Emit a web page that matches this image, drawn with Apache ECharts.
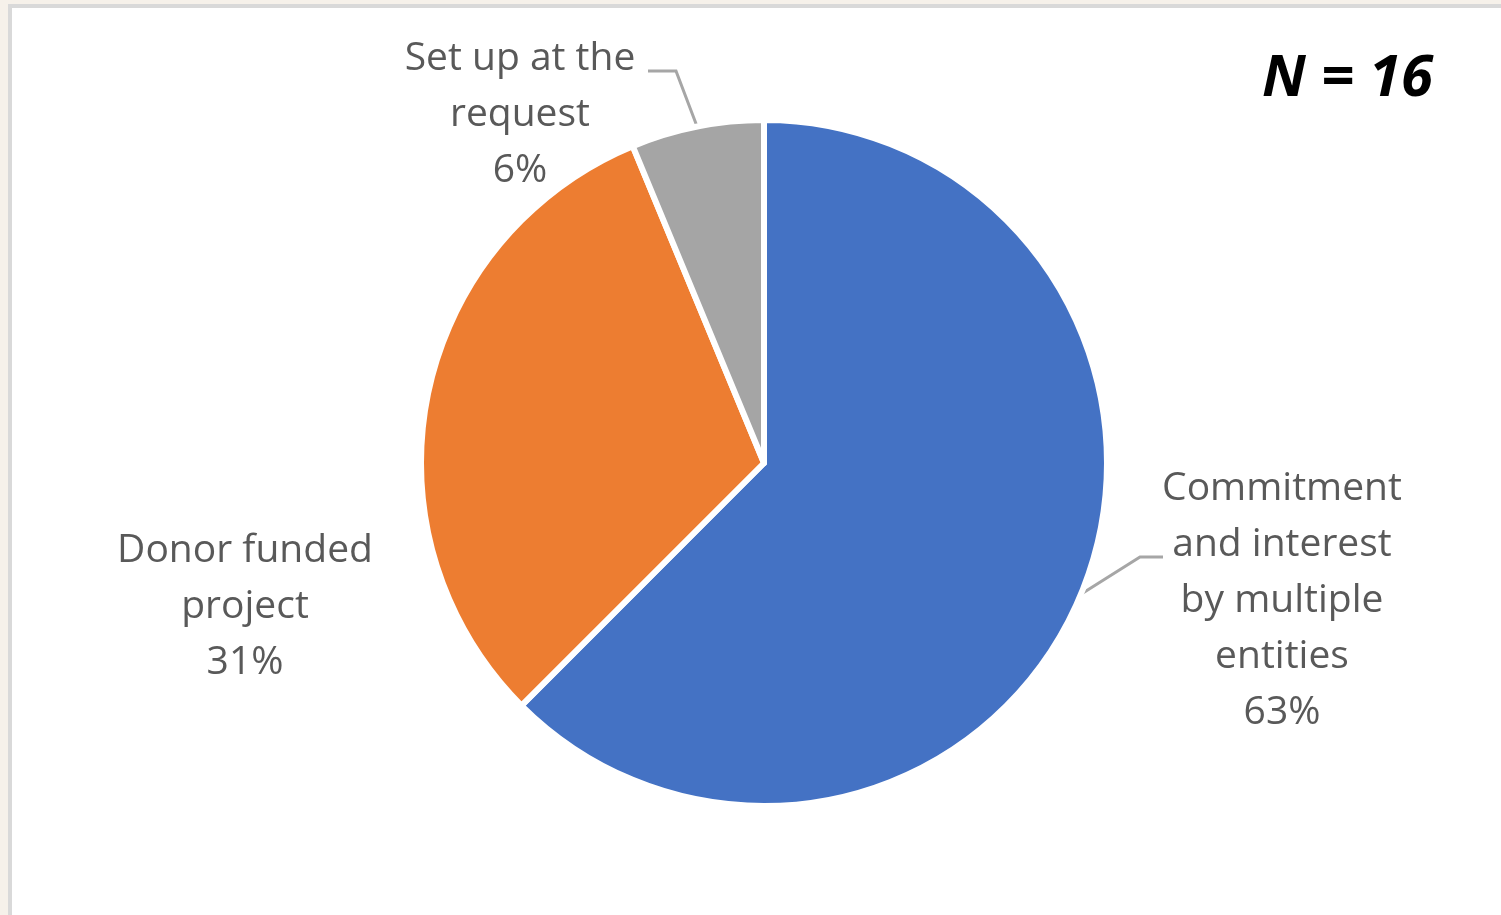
<!DOCTYPE html>
<html>
<head>
<meta charset="utf-8">
<script src="https://cdn.jsdelivr.net/npm/echarts@6/dist/echarts.min.js"></script>
<style>
  html, body { margin: 0; padding: 0; background: #f6f1ea; }
  #frame {
    position: absolute; left: 8px; top: 4px; right: 0; bottom: 0;
    background: #fff;
    border-left: 4px solid #d9d9d9;
    border-top: 4px solid #d9d9d9;
  }
  #main { position: absolute; left: 0; top: 0; width: 1501px; height: 915px; }
</style>
</head>
<body>
<div id="frame"></div>
<div id="main"></div>
<script>
// counts behind the shares (N = 16)
const categories = ['Commitment and interest by multiple entities', 'Donor funded project', 'Set up at the request']
const labelLines = [
  ['Commitment', 'and interest', 'by multiple', 'entities'],
  ['Donor funded', 'project'],
  ['Set up at the', 'request']
]
const counts = [10, 5, 1]
const colors = ['#4472c4', '#ed7d31', '#a5a5a5']
const totalN = 16

// where each label block is centred, and the leader elbow offsets (layout only)
const labelPos = [[1282, 601], [245, 607], [520, 115]]
const elbow = [[-142, -44, -119], null, [156, -44, 128]]

let chart = echarts.init(document.getElementById('main'), null, { renderer: 'canvas' })

let pieData = counts.map((v, i) => ({
  name: categories[i],
  value: v,
  itemStyle: { color: colors[i] },
  labelLine: { show: i != 1 }
}))

let option = {
  animation: false,
  graphic: [{
    type: 'text',
    right: 68,
    top: 50,
    style: {
      text: 'N = ' + totalN,
      font: 'italic bold 58px "Open Sans"',
      fill: '#000'
    }
  }],
  series: [{
    type: 'pie',
    center: [764, 463],
    radius: 343,
    startAngle: 90,
    clockwise: true,
    avoidLabelOverlap: false,
    percentPrecision: 0,
    data: pieData,
    itemStyle: {
      borderColor: '#fff',
      borderWidth: 6
    },
    label: {
      show: true,
      position: 'outside',
      formatter: p => labelLines[p.dataIndex].map(s => '{t|' + s + '}').join('\n') + '\n{t|' + p.percent + '%}',
      rich: {
        t: {
          fontFamily: 'Open Sans',
          fontSize: 39,
          lineHeight: 56,
          color: '#595959',
          align: 'center'
        }
      }
    },
    labelLine: {
      show: true,
      length: 10,
      length2: 22,
      lineStyle: { color: '#a6a6a6', width: 3 }
    },
    labelLayout: function (params) {
      let i = params.dataIndex
      let p = labelPos[i]
      let out = { x: p[0], y: p[1], align: 'center', verticalAlign: 'middle' }
      let e = elbow[i]
      if (e && params.labelLinePoints) {
        let a = params.labelLinePoints[0]
        out.labelLinePoints = [a, [p[0] + e[0], p[1] + e[1]], [p[0] + e[2], p[1] + e[1]]]
      }
      return out
    }
  }]
}

chart.setOption(option)
</script>
</body>
</html>
